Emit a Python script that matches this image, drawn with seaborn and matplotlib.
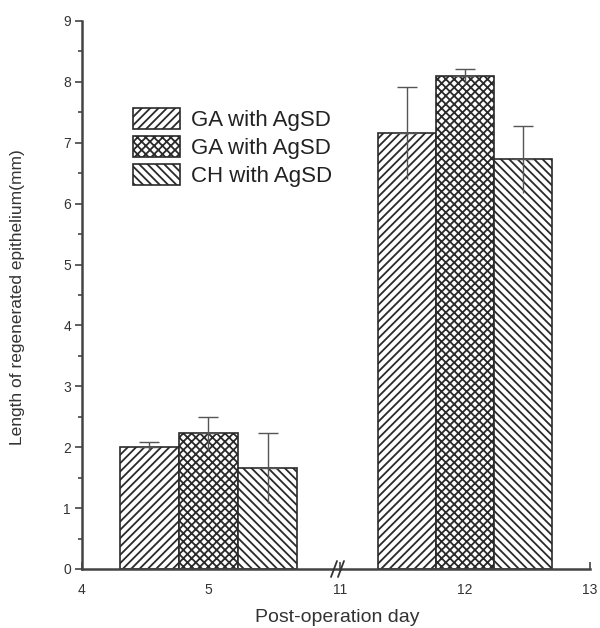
import numpy as np
import pandas as pd
import seaborn as sns
import matplotlib
matplotlib.use("Agg")
import matplotlib.pyplot as plt
from matplotlib.patches import Patch
from matplotlib.ticker import MultipleLocator

# values
DAYS = [5, 12]
GROUP_KEYS = ["g1", "g2", "g3"]
GROUP_LABELS = ["GA with AgSD", "GA with AgSD", "CH with AgSD"]
MEANS_DAY5 = [2.01, 2.23, 1.66]
ERR_DAY5 = [0.08, 0.27, 0.57]
MEANS_DAY12 = [7.16, 8.09, 6.73]
ERR_DAY12 = [0.75, 0.12, 0.55]
HATCHES = ["////", "xxxx", "\\\\\\\\"]
Y_TICKS = list(range(0, 10))

sns.set_style("ticks")
plt.rcParams["font.family"] = ["Liberation Sans", "DejaVu Sans"]
plt.rcParams["hatch.linewidth"] = 1.3
plt.rcParams["hatch.color"] = "#333333"

df = pd.DataFrame({
    "day": [DAYS[0]] * 3 + [DAYS[1]] * 3,
    "group": GROUP_KEYS * 2,
    "value": MEANS_DAY5 + MEANS_DAY12,
    "err": ERR_DAY5 + ERR_DAY12,
})

W, H = 600, 628
fig = plt.figure(figsize=(W / 100, H / 100), dpi=100)
y0, y9 = 569, 21
x_left0, x_join, x_right1 = 82, 340, 590
ax_l = fig.add_axes([x_left0 / W, (H - y0) / H, (x_join - x_left0) / W, (y0 - y9) / H])
ax_r = fig.add_axes([x_join / W, (H - y0) / H, (x_right1 - x_join) / W, (y0 - y9) / H])

edge = "#2a2a2a"
txt = "#333333"
for ax, day, xlim in [(ax_l, 5, (4, 4 + (x_join - x_left0) / 126.5)), (ax_r, 12, (11, 13))]:
    sub = df[df["day"] == day]
    sns.barplot(data=sub, x="day", y="value", hue="group", hue_order=GROUP_KEYS,
                native_scale=True, width=1.4, errorbar=None, legend=False,
                palette=["white"] * 3, edgecolor=edge, linewidth=1.2, ax=ax)
    bars = [p for p in ax.patches][:3]
    for bar, h, e in zip(bars, HATCHES, sub["err"]):
        bar.set_hatch(h)
        bar.set_facecolor("white")
        cx = bar.get_x() + bar.get_width() / 2
        top = bar.get_height()
        # upper whisker with cap, lower whisker without cap
        ax.errorbar(cx, top, yerr=[[0], [e]], fmt="none", ecolor="#555555",
                    elinewidth=1.0, capsize=7, capthick=1.0, zorder=5)
        ax.vlines(cx, top - e, top, color="#555555", linewidth=1.0, zorder=5)
    ax.set_xlim(*xlim)
    ax.set_ylim(0, 9)
    ax.set_xlabel("")
    ax.set_ylabel("")
    for s in ["top", "right"]:
        ax.spines[s].set_visible(False)
    ax.spines["bottom"].set_linewidth(1.8)
    ax.spines["bottom"].set_color("#444444")
    ax.xaxis.set_minor_locator(MultipleLocator(0.5))
    ax.tick_params(axis="x", which="major", direction="in", length=5, width=1.2,
                   colors="#444444", labelsize=10, labelcolor=txt, pad=10)
    ax.tick_params(axis="x", which="minor", direction="in", length=4, width=1.2,
                   colors="#444444")

ax_l.set_xticks([4, 5])
ax_l.set_xticklabels(["4", "5"])
ax_l.set_xticks([4.5, 5.5], minor=True)
ax_r.set_xticks([11, 12, 13])
ax_r.set_xticklabels(["11", "12", "13"])
ax_r.set_xticks([11.5, 12.5], minor=True)

ax_l.set_yticks(Y_TICKS)
ax_l.yaxis.set_minor_locator(MultipleLocator(0.5))
ax_l.spines["left"].set_linewidth(1.8)
ax_l.spines["left"].set_color("#444444")
ax_l.tick_params(axis="y", which="major", direction="out", length=5, width=1.2,
                 colors="#444444", labelsize=10, labelcolor=txt, pad=3)
ax_l.tick_params(axis="y", which="minor", direction="out", length=3, width=1.2,
                 colors="#444444")
ax_r.spines["left"].set_visible(False)
ax_r.tick_params(axis="y", which="both", left=False, labelleft=False)

# axis break marks
for dx in (-6, 1):
    fig.add_artist(plt.Line2D([(x_join + dx - 3) / W, (x_join + dx + 3) / W],
                              [(H - y0 - 8) / H, (H - y0 + 8) / H],
                              color="#333333", linewidth=1.3))

fig.text(18 / W, 1 - 297 / H, "Length of regenerated epithelium(mm)", rotation=90,
         ha="center", va="center", fontsize=12.5, color=txt)
fig.text(337 / W, 1 - 618 / H, "Post-operation day", ha="center", va="center",
         fontsize=14, color=txt)

handles = [Patch(facecolor="white", edgecolor=edge, hatch=h, linewidth=1.2) for h in HATCHES]
ax_l.legend(handles, GROUP_LABELS, loc="upper left", bbox_to_anchor=(0.198, 0.842),
            frameon=False, fontsize=16, handlelength=2.1, handleheight=1.1,
            labelspacing=0.22, handletextpad=0.5, borderpad=0, borderaxespad=0,
            labelcolor="#222222")

fig.savefig("out.png", dpi=100, facecolor="white")
